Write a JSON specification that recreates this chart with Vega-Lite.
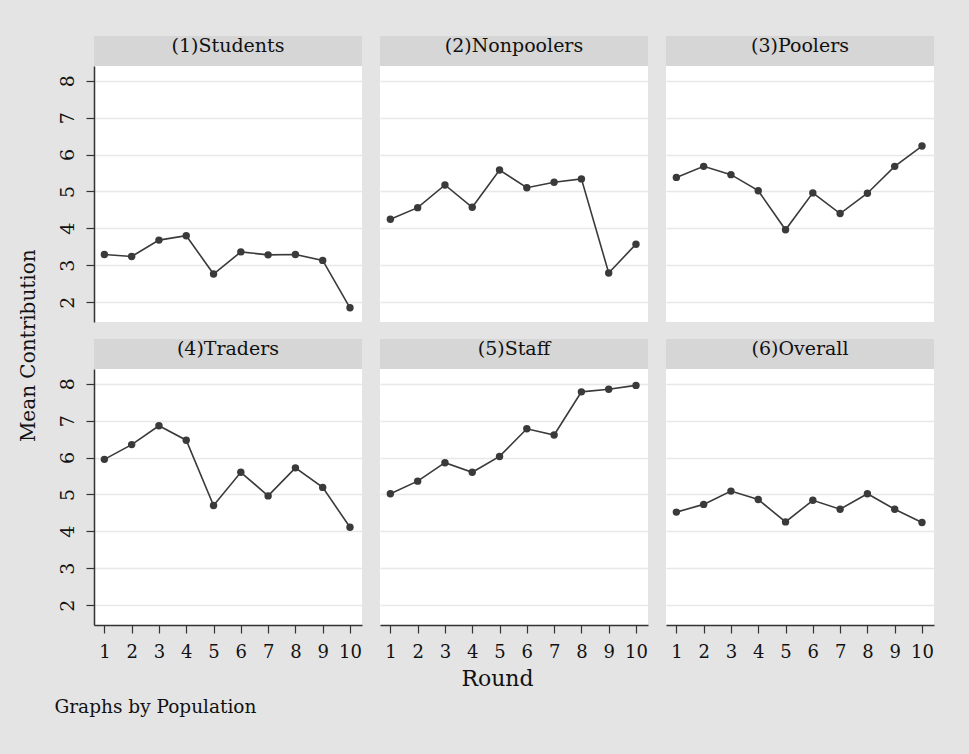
{
  "$schema": "https://vega.github.io/schema/vega-lite/v6.json",
  "background": "#e4e4e4",
  "padding": {"left": 18, "top": 36, "right": 45, "bottom": 45},
  "title": {"text": "Mean Contribution", "orient": "left", "anchor": "middle", "font": "DejaVu Serif", "fontSize": 20, "fontWeight": "normal", "color": "#111111", "offset": 15, "dx": 30},
  "config": {
    "view": {"stroke": null},
    "font": "DejaVu Serif",
    "axis": {
      "labelFont": "DejaVu Serif",
      "titleFont": "DejaVu Serif",
      "labelColor": "#111111",
      "titleColor": "#111111",
      "titleFontWeight": "normal",
      "domainColor": "#333333",
      "domainWidth": 1.5,
      "tickColor": "#333333",
      "tickWidth": 1.2,
      "tickSize": 8,
      "gridColor": "#e8e8e8",
      "gridWidth": 1.5
    }
  },
  "datasets": {
    "panels": [
      {"label": "(1)Students"}, {"label": "(2)Nonpoolers"}, {"label": "(3)Poolers"},
      {"label": "(4)Traders"}, {"label": "(5)Staff"}, {"label": "(6)Overall"}
    ],
    "points": [
      {"pop": "(1)Students", "round": 1, "contribution": 3.29},
      {"pop": "(1)Students", "round": 2, "contribution": 3.235},
      {"pop": "(1)Students", "round": 3, "contribution": 3.68},
      {"pop": "(1)Students", "round": 4, "contribution": 3.80},
      {"pop": "(1)Students", "round": 5, "contribution": 2.76},
      {"pop": "(1)Students", "round": 6, "contribution": 3.36},
      {"pop": "(1)Students", "round": 7, "contribution": 3.28},
      {"pop": "(1)Students", "round": 8, "contribution": 3.29},
      {"pop": "(1)Students", "round": 9, "contribution": 3.13},
      {"pop": "(1)Students", "round": 10, "contribution": 1.845},
      {"pop": "(2)Nonpoolers", "round": 1, "contribution": 4.245},
      {"pop": "(2)Nonpoolers", "round": 2, "contribution": 4.56},
      {"pop": "(2)Nonpoolers", "round": 3, "contribution": 5.175},
      {"pop": "(2)Nonpoolers", "round": 4, "contribution": 4.57},
      {"pop": "(2)Nonpoolers", "round": 5, "contribution": 5.58},
      {"pop": "(2)Nonpoolers", "round": 6, "contribution": 5.10},
      {"pop": "(2)Nonpoolers", "round": 7, "contribution": 5.25},
      {"pop": "(2)Nonpoolers", "round": 8, "contribution": 5.34},
      {"pop": "(2)Nonpoolers", "round": 9, "contribution": 2.79},
      {"pop": "(2)Nonpoolers", "round": 10, "contribution": 3.57},
      {"pop": "(3)Poolers", "round": 1, "contribution": 5.38},
      {"pop": "(3)Poolers", "round": 2, "contribution": 5.68},
      {"pop": "(3)Poolers", "round": 3, "contribution": 5.455},
      {"pop": "(3)Poolers", "round": 4, "contribution": 5.02},
      {"pop": "(3)Poolers", "round": 5, "contribution": 3.96},
      {"pop": "(3)Poolers", "round": 6, "contribution": 4.96},
      {"pop": "(3)Poolers", "round": 7, "contribution": 4.40},
      {"pop": "(3)Poolers", "round": 8, "contribution": 4.95},
      {"pop": "(3)Poolers", "round": 9, "contribution": 5.68},
      {"pop": "(3)Poolers", "round": 10, "contribution": 6.23},
      {"pop": "(4)Traders", "round": 1, "contribution": 5.95},
      {"pop": "(4)Traders", "round": 2, "contribution": 6.35},
      {"pop": "(4)Traders", "round": 3, "contribution": 6.86},
      {"pop": "(4)Traders", "round": 4, "contribution": 6.47},
      {"pop": "(4)Traders", "round": 5, "contribution": 4.70},
      {"pop": "(4)Traders", "round": 6, "contribution": 5.60},
      {"pop": "(4)Traders", "round": 7, "contribution": 4.96},
      {"pop": "(4)Traders", "round": 8, "contribution": 5.72},
      {"pop": "(4)Traders", "round": 9, "contribution": 5.19},
      {"pop": "(4)Traders", "round": 10, "contribution": 4.11},
      {"pop": "(5)Staff", "round": 1, "contribution": 5.02},
      {"pop": "(5)Staff", "round": 2, "contribution": 5.36},
      {"pop": "(5)Staff", "round": 3, "contribution": 5.86},
      {"pop": "(5)Staff", "round": 4, "contribution": 5.60},
      {"pop": "(5)Staff", "round": 5, "contribution": 6.03},
      {"pop": "(5)Staff", "round": 6, "contribution": 6.78},
      {"pop": "(5)Staff", "round": 7, "contribution": 6.61},
      {"pop": "(5)Staff", "round": 8, "contribution": 7.78},
      {"pop": "(5)Staff", "round": 9, "contribution": 7.85},
      {"pop": "(5)Staff", "round": 10, "contribution": 7.955},
      {"pop": "(6)Overall", "round": 1, "contribution": 4.52},
      {"pop": "(6)Overall", "round": 2, "contribution": 4.73},
      {"pop": "(6)Overall", "round": 3, "contribution": 5.09},
      {"pop": "(6)Overall", "round": 4, "contribution": 4.86},
      {"pop": "(6)Overall", "round": 5, "contribution": 4.255},
      {"pop": "(6)Overall", "round": 6, "contribution": 4.84},
      {"pop": "(6)Overall", "round": 7, "contribution": 4.60},
      {"pop": "(6)Overall", "round": 8, "contribution": 5.02},
      {"pop": "(6)Overall", "round": 9, "contribution": 4.60},
      {"pop": "(6)Overall", "round": 10, "contribution": 4.24}
    ]
  },
  "spacing": 17,
  "vconcat": [
    {
      "spacing": 18,
      "hconcat": [
        {
          "bounds": "flush", "spacing": 0,
          "vconcat": [
            {"width": 268, "height": 30, "view": {"fill": "#d6d6d6", "stroke": null},
             "data": {"name": "panels"}, "transform": [{"filter": "datum.label === '(1)Students'"}],
             "mark": {"type": "text", "font": "DejaVu Serif", "fontSize": 19, "color": "#111111", "baseline": "middle", "dy": -5},
             "encoding": {"text": {"field": "label"}}},
            {"width": 268, "height": 256, "view": {"fill": "white", "stroke": null},
             "data": {"name": "points"}, "transform": [{"filter": "datum.pop === '(1)Students'"}],
             "encoding": {
               "x": {"field": "round", "type": "quantitative", "scale": {"domain": [0.62, 10.44], "nice": false, "zero": false}, "axis": null},
               "y": {"field": "contribution", "type": "quantitative", "scale": {"domain": [1.46, 8.4], "nice": false, "zero": false},
                     "axis": {"values": [2, 3, 4, 5, 6, 7, 8], "grid": true, "labelAngle": -90, "labelFontSize": 19, "labelPadding": 9, "title": null}}
             },
             "layer": [
               {"mark": {"type": "line", "color": "#3a3a3a", "strokeWidth": 1.6}},
               {"mark": {"type": "circle", "color": "#3a3a3a", "opacity": 1, "size": 55}}
             ]}
          ]
        },
        {
          "bounds": "flush", "spacing": 0,
          "vconcat": [
            {"width": 268, "height": 30, "view": {"fill": "#d6d6d6", "stroke": null},
             "data": {"name": "panels"}, "transform": [{"filter": "datum.label === '(2)Nonpoolers'"}],
             "mark": {"type": "text", "font": "DejaVu Serif", "fontSize": 19, "color": "#111111", "baseline": "middle", "dy": -5},
             "encoding": {"text": {"field": "label"}}},
            {"width": 268, "height": 256, "view": {"fill": "white", "stroke": null},
             "data": {"name": "points"}, "transform": [{"filter": "datum.pop === '(2)Nonpoolers'"}],
             "encoding": {
               "x": {"field": "round", "type": "quantitative", "scale": {"domain": [0.62, 10.44], "nice": false, "zero": false}, "axis": null},
               "y": {"field": "contribution", "type": "quantitative", "scale": {"domain": [1.46, 8.4], "nice": false, "zero": false},
                     "axis": {"values": [2, 3, 4, 5, 6, 7, 8], "grid": true, "domain": false, "ticks": false, "labels": false, "title": null}}
             },
             "layer": [
               {"mark": {"type": "line", "color": "#3a3a3a", "strokeWidth": 1.6}},
               {"mark": {"type": "circle", "color": "#3a3a3a", "opacity": 1, "size": 55}}
             ]}
          ]
        },
        {
          "bounds": "flush", "spacing": 0,
          "vconcat": [
            {"width": 268, "height": 30, "view": {"fill": "#d6d6d6", "stroke": null},
             "data": {"name": "panels"}, "transform": [{"filter": "datum.label === '(3)Poolers'"}],
             "mark": {"type": "text", "font": "DejaVu Serif", "fontSize": 19, "color": "#111111", "baseline": "middle", "dy": -5},
             "encoding": {"text": {"field": "label"}}},
            {"width": 268, "height": 256, "view": {"fill": "white", "stroke": null},
             "data": {"name": "points"}, "transform": [{"filter": "datum.pop === '(3)Poolers'"}],
             "encoding": {
               "x": {"field": "round", "type": "quantitative", "scale": {"domain": [0.62, 10.44], "nice": false, "zero": false}, "axis": null},
               "y": {"field": "contribution", "type": "quantitative", "scale": {"domain": [1.46, 8.4], "nice": false, "zero": false},
                     "axis": {"values": [2, 3, 4, 5, 6, 7, 8], "grid": true, "domain": false, "ticks": false, "labels": false, "title": null}}
             },
             "layer": [
               {"mark": {"type": "line", "color": "#3a3a3a", "strokeWidth": 1.6}},
               {"mark": {"type": "circle", "color": "#3a3a3a", "opacity": 1, "size": 55}}
             ]}
          ]
        }
      ]
    },
    {
      "spacing": 18,
      "hconcat": [
        {
          "bounds": "flush", "spacing": 0,
          "vconcat": [
            {"width": 268, "height": 30, "view": {"fill": "#d6d6d6", "stroke": null},
             "data": {"name": "panels"}, "transform": [{"filter": "datum.label === '(4)Traders'"}],
             "mark": {"type": "text", "font": "DejaVu Serif", "fontSize": 19, "color": "#111111", "baseline": "middle", "dy": -5},
             "encoding": {"text": {"field": "label"}}},
            {"width": 268, "height": 256, "view": {"fill": "white", "stroke": null},
             "data": {"name": "points"}, "transform": [{"filter": "datum.pop === '(4)Traders'"}],
             "encoding": {
               "x": {"field": "round", "type": "quantitative", "scale": {"domain": [0.62, 10.44], "nice": false, "zero": false},
                     "axis": {"values": [1, 2, 3, 4, 5, 6, 7, 8, 9, 10], "grid": false, "labelFontSize": 18, "labelPadding": 10, "labelFlush": false, "labelOverlap": false,
                              "title": "Graphs by Population", "titleFontSize": 18.5, "titleX": -40, "titleY": 87, "titleAlign": "left", "titleBaseline": "alphabetic"}},
               "y": {"field": "contribution", "type": "quantitative", "scale": {"domain": [1.46, 8.4], "nice": false, "zero": false},
                     "axis": {"values": [2, 3, 4, 5, 6, 7, 8], "grid": true, "labelAngle": -90, "labelFontSize": 19, "labelPadding": 9, "title": null}}
             },
             "layer": [
               {"mark": {"type": "line", "color": "#3a3a3a", "strokeWidth": 1.6}},
               {"mark": {"type": "circle", "color": "#3a3a3a", "opacity": 1, "size": 55}}
             ]}
          ]
        },
        {
          "bounds": "flush", "spacing": 0,
          "vconcat": [
            {"width": 268, "height": 30, "view": {"fill": "#d6d6d6", "stroke": null},
             "data": {"name": "panels"}, "transform": [{"filter": "datum.label === '(5)Staff'"}],
             "mark": {"type": "text", "font": "DejaVu Serif", "fontSize": 19, "color": "#111111", "baseline": "middle", "dy": -5},
             "encoding": {"text": {"field": "label"}}},
            {"width": 268, "height": 256, "view": {"fill": "white", "stroke": null},
             "data": {"name": "points"}, "transform": [{"filter": "datum.pop === '(5)Staff'"}],
             "encoding": {
               "x": {"field": "round", "type": "quantitative", "scale": {"domain": [0.62, 10.44], "nice": false, "zero": false},
                     "axis": {"values": [1, 2, 3, 4, 5, 6, 7, 8, 9, 10], "grid": false, "labelFontSize": 18, "labelPadding": 10, "labelFlush": false, "labelOverlap": false,
                              "title": "Round", "titleFontSize": 22, "titleX": 117, "titleY": 60, "titleAlign": "center", "titleBaseline": "alphabetic"}},
               "y": {"field": "contribution", "type": "quantitative", "scale": {"domain": [1.46, 8.4], "nice": false, "zero": false},
                     "axis": {"values": [2, 3, 4, 5, 6, 7, 8], "grid": true, "domain": false, "ticks": false, "labels": false, "title": null}}
             },
             "layer": [
               {"mark": {"type": "line", "color": "#3a3a3a", "strokeWidth": 1.6}},
               {"mark": {"type": "circle", "color": "#3a3a3a", "opacity": 1, "size": 55}}
             ]}
          ]
        },
        {
          "bounds": "flush", "spacing": 0,
          "vconcat": [
            {"width": 268, "height": 30, "view": {"fill": "#d6d6d6", "stroke": null},
             "data": {"name": "panels"}, "transform": [{"filter": "datum.label === '(6)Overall'"}],
             "mark": {"type": "text", "font": "DejaVu Serif", "fontSize": 19, "color": "#111111", "baseline": "middle", "dy": -5},
             "encoding": {"text": {"field": "label"}}},
            {"width": 268, "height": 256, "view": {"fill": "white", "stroke": null},
             "data": {"name": "points"}, "transform": [{"filter": "datum.pop === '(6)Overall'"}],
             "encoding": {
               "x": {"field": "round", "type": "quantitative", "scale": {"domain": [0.62, 10.44], "nice": false, "zero": false},
                     "axis": {"values": [1, 2, 3, 4, 5, 6, 7, 8, 9, 10], "grid": false, "labelFontSize": 18, "labelPadding": 10, "labelFlush": false, "labelOverlap": false, "title": null}},
               "y": {"field": "contribution", "type": "quantitative", "scale": {"domain": [1.46, 8.4], "nice": false, "zero": false},
                     "axis": {"values": [2, 3, 4, 5, 6, 7, 8], "grid": true, "domain": false, "ticks": false, "labels": false, "title": null}}
             },
             "layer": [
               {"mark": {"type": "line", "color": "#3a3a3a", "strokeWidth": 1.6}},
               {"mark": {"type": "circle", "color": "#3a3a3a", "opacity": 1, "size": 55}}
             ]}
          ]
        }
      ]
    }
  ]
}
